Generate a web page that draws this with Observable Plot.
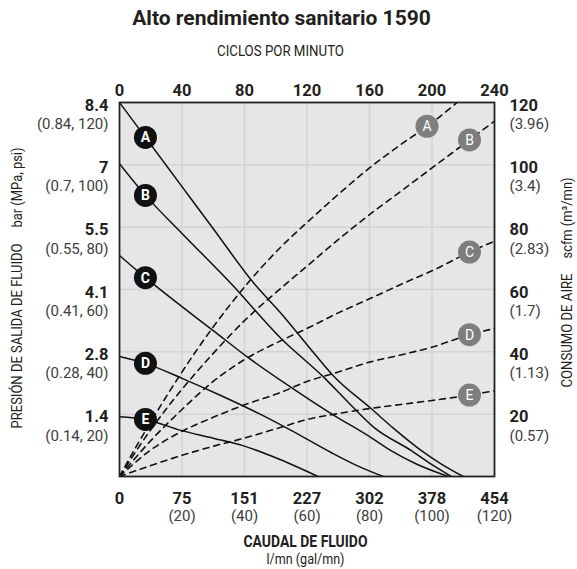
<!DOCTYPE html>
<html><head><meta charset="utf-8">
<script src="https://cdn.jsdelivr.net/npm/d3@7"></script>
<script src="https://cdn.jsdelivr.net/npm/@observablehq/plot@0.6"></script>
<style>
html,body{margin:0;padding:0;background:#fff;}
#chart svg{display:block;}
</style></head><body><div id="chart"></div>
<script>
// ---- Data (x = fluid flow in gal/mn, y = psi for solid curves, scfm for dashed curves)
const seriesNames = ["A","B","C","D","E"];

const pressureA = [[0,120],[8.3,108.8],[20,93],[30,79.5],[43,62],[52,52],[60,42.3],[68.7,32],[80.5,21.8],[88,15.2],[96.6,8.3],[103,4],[110,0]];
const pressureB = [[0,100.4],[8.3,90.2],[20,78],[35.6,62],[51.7,44.3],[65.4,31.8],[73,24],[81.5,15.7],[93.4,8.3],[100,3.8],[106.2,0]];
const pressureC = [[0,70.9],[8.3,63.8],[20,54.5],[30,46.8],[41.1,38.2],[54.9,28.6],[67.7,20.2],[80.5,12.5],[86.9,8.3],[95,4],[105.2,0]];
const pressureD = [[0,38.5],[8.3,36.3],[20,31.5],[32.4,26],[45,20],[54.9,14.8],[67.7,7.7],[76,3.5],[84.4,0]];
const pressureE = [[0,19.2],[8.3,18.3],[19.6,14.8],[30,12.3],[39.5,9.9],[50,6],[63.5,0]];

const airA = [[0,0],[5,9],[10,17.5],[19,32],[30,48],[41,62],[52,74],[60,81.5],[70,90.5],[80,99],[90,106.5],[100,113.5],[108,120]];
const airB = [[0,0],[10,15],[20,28],[30,39.5],[40,50],[50,59],[60,67.5],[70,76],[80,84],[90,91.5],[100,99],[110,106.5],[120,114]];
const airC = [[0,0],[10,11.5],[20,21.5],[30,30.5],[40,37.5],[51.7,43.6],[60,47.5],[70,52.5],[80,57],[92,62.5],[100,66],[112,72],[120,75.5]];
const airD = [[0,0],[10,8.5],[20,14.5],[30,19],[40,23],[51.7,27],[60,30.5],[70,33.5],[80,36.7],[90,39],[100,41.5],[112,45.5],[120,47.5]];
const airE = [[0,0],[10,3.5],[20,6.8],[30,9.7],[39.5,12.2],[51.7,15.8],[60,18.3],[70,20.2],[80,21.8],[90,23.1],[100,24.4],[110,25.8],[120,27.5]];

// label positions (flow, gal/mn) along each curve
const pressureLabelFlow = [8.3,8.3,8.3,8.3,8.3];
const airLabelFlow = [98.4,112,112,112,112];

// axis ticks & labels
const flowTicks = [0,20,40,60,80,100,120];
const flowLmnLabels = ["0","75","151","227","302","378","454"];
const flowGalLabels = ["","(20)","(40)","(60)","(80)","(100)","(120)"];
const cycleLabels = ["0","40","80","120","160","200","240"];
const valueTicks = [20,40,60,80,100,120];
const barLabels = ["1.4","2.8","4.1","5.5","7","8.4"];
const mpaPsiLabels = ["(0.14, 20)","(0.28, 40)","(0.41, 60)","(0.55, 80)","(0.7, 100)","(0.84, 120)"];
const scfmLabels = ["20","40","60","80","100","120"];
const m3Labels = ["(0.57)","(1.13)","(1.7)","(2.83)","(3.4)","(3.96)"];

const title = "Alto rendimiento sanitario 1590";
const topTitle = "CICLOS POR MINUTO";
const bottomTitle = "CAUDAL DE FLUIDO";
const bottomUnits = "l/mn (gal/mn)";
const leftTitle = "PRESIÓN DE SALIDA DE FLUIDO";
const leftUnits = "bar (MPa, psi)";
const rightTitle = "CONSUMO DE AIRE";
const rightUnits = "scfm (m³/mn)";

// ---- build tables
const pressure = [pressureA,pressureB,pressureC,pressureD,pressureE];
const air = [airA,airB,airC,airD,airE];
const toRows = (arr) => arr.flatMap((pts,i) => pts.map(([g,v]) => ({s: seriesNames[i], g, v})));
const solidRows = toRows(pressure);
const dashedRows = toRows(air);
const interp = (pts, g) => {
  for (let k = 1; k < pts.length; k++) {
    if (g <= pts[k][0]) {
      const [x0,y0] = pts[k-1], [x1,y1] = pts[k];
      return y0 + (y1-y0)*(g-x0)/(x1-x0);
    }
  }
  return pts[pts.length-1][1];
};
const solidLabels = seriesNames.map((s,i) => ({s, g: pressureLabelFlow[i], v: interp(pressure[i], pressureLabelFlow[i])}));
const dashedLabels = seriesNames.map((s,i) => ({s, g: airLabelFlow[i], v: interp(air[i], airLabelFlow[i])}));

const font = 'Roboto,"Liberation Sans",sans-serif';
const ink = "#231f20";
const sub = "#3d3d3d";

const chart = Plot.plot({
  width: 577, height: 569,
  marginLeft: 119, marginRight: 83, marginTop: 102, marginBottom: 93,
  x: {domain: [0,120], axis: null},
  y: {domain: [0,120], axis: null},
  style: {fontFamily: font, background: "#fff", color: ink},
  marks: [
    Plot.frame({fill: "#e6e6e8", stroke: null}),
    Plot.ruleX(flowTicks.slice(1,-1), {stroke: "#d3d3d5", strokeWidth: 1.5}),
    Plot.ruleY(valueTicks.slice(0,-1), {stroke: "#d3d3d5", strokeWidth: 1.5}),
    Plot.line(dashedRows, {x: "g", y: "v", z: "s", curve: "monotone-x", stroke: "#111", strokeWidth: 1.6, strokeDasharray: "6,5", clip: true}),
    Plot.line(solidRows, {x: "g", y: "v", z: "s", curve: "monotone-x", stroke: "#111", strokeWidth: 1.5, clip: true}),
    Plot.frame({stroke: "#222", strokeWidth: 1.8}),
    Plot.dot(solidLabels, {x: "g", y: "v", r: 11.5, fill: "#111", stroke: null}),
    Plot.text(solidLabels, {x: "g", y: "v", text: "s", fill: "#fff", fontWeight: "bold", fontSize: 14, lineAnchor: "middle", dy: 0.5}),
    Plot.dot(dashedLabels, {x: "g", y: "v", r: 11.5, fill: "#7e7e7e", stroke: null}),
    Plot.text(dashedLabels, {x: "g", y: "v", text: "s", fill: "#fff", fontSize: 14, lineAnchor: "middle", dy: 0.5}),
    // top axis (cycles per minute)
    Plot.text(flowTicks, {x: d => d, frameAnchor: "top", text: (d,i) => cycleLabels[i], lineAnchor: "bottom", dy: -7, fontSize: 16.5, fontWeight: "bold", fill: ink}),
    // bottom axis
    Plot.text(flowTicks, {x: d => d, frameAnchor: "bottom", text: (d,i) => flowLmnLabels[i], lineAnchor: "bottom", dy: 27.5, fontSize: 16.5, fontWeight: "bold", fill: ink}),
    Plot.text(flowTicks, {x: d => d, frameAnchor: "bottom", text: (d,i) => flowGalLabels[i], lineAnchor: "bottom", dy: 44.5, fontSize: 15, fill: sub}),
    // left axis
    Plot.text(valueTicks, {y: d => d, frameAnchor: "left", text: (d,i) => barLabels[i], textAnchor: "end", lineAnchor: "bottom", dx: -11, dy: 8, fontSize: 16.5, fontWeight: "bold", fill: ink}),
    Plot.text(valueTicks, {y: d => d, frameAnchor: "left", text: (d,i) => mpaPsiLabels[i], textAnchor: "end", lineAnchor: "bottom", dx: -11, dy: 26.5, fontSize: 15, fill: sub}),
    // right axis
    Plot.text(valueTicks, {y: d => d, frameAnchor: "right", text: (d,i) => scfmLabels[i], textAnchor: "start", lineAnchor: "bottom", dx: 15, dy: 8, fontSize: 16.5, fontWeight: "bold", fill: ink}),
    Plot.text(valueTicks, {y: d => d, frameAnchor: "right", text: (d,i) => m3Labels[i], textAnchor: "start", lineAnchor: "bottom", dx: 15, dy: 26.5, fontSize: 15, fill: sub}),
    // titles
    Plot.text([title], {frameAnchor: "top", text: d => d, textAnchor: "middle", lineAnchor: "bottom", dx: -25.5, dy: -78, fontSize: 21, fontWeight: "bold", fill: ink}),
    Plot.text([topTitle], {frameAnchor: "top", text: d => d, textAnchor: "middle", lineAnchor: "bottom", dx: -26.5, dy: -47, fontSize: 14, fill: ink}),
    Plot.text([bottomTitle], {frameAnchor: "bottom", text: d => d, textAnchor: "middle", lineAnchor: "bottom", dx: -1.5, dy: 70.5, fontSize: 16, fontWeight: "bold", fill: ink}),
    Plot.text([bottomUnits], {frameAnchor: "bottom", text: d => d, textAnchor: "middle", lineAnchor: "bottom", dx: -1.5, dy: 87, fontSize: 14, fill: ink}),
    Plot.text([leftTitle], {frameAnchor: "left", text: d => d, textAnchor: "middle", rotate: -90, lineAnchor: "middle", dx: -102, dy: 46.5, fontSize: 14.5, fill: ink}),
    Plot.text([leftUnits], {frameAnchor: "left", text: d => d, textAnchor: "middle", rotate: -90, lineAnchor: "middle", dx: -102, dy: -102, fontSize: 14.5, fill: ink}),
    Plot.text([rightTitle], {frameAnchor: "right", text: d => d, textAnchor: "middle", rotate: -90, lineAnchor: "middle", dx: 73, dy: 41, fontSize: 14.5, fill: ink}),
    Plot.text([rightUnits], {frameAnchor: "right", text: d => d, textAnchor: "middle", rotate: -90, lineAnchor: "middle", dx: 73, dy: -71.5, fontSize: 14.5, fill: ink})
  ]
});
document.getElementById("chart").append(chart);

// condensed look for the axis titles (the reference uses a condensed face)
const condensedWidths = new Map([[topTitle,127],[bottomTitle,124],[bottomUnits,78],[leftTitle,185],[leftUnits,80],[rightTitle,114],[rightUnits,81]]);
d3.select(chart).selectAll("text").each(function() {
  const t = this.textContent;
  if (condensedWidths.has(t)) {
    const w = this.getComputedTextLength();
    const target = condensedWidths.get(t);
    if (w > target) {
      this.setAttribute("textLength", target);
      this.setAttribute("lengthAdjust", "spacingAndGlyphs");
    }
  }
});
</script>
</body></html>
